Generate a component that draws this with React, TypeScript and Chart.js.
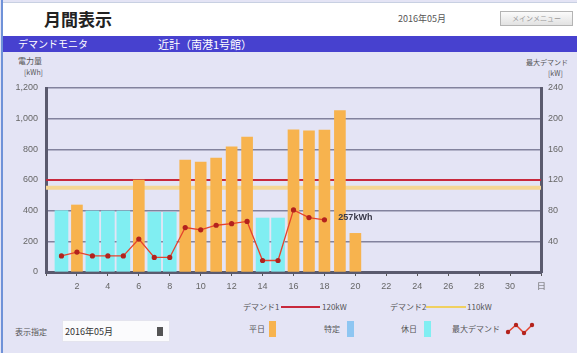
import React, { useEffect, useRef } from 'react';
import { Chart, registerables } from 'chart.js';

Chart.register(...registerables);

// ---- data ----
const DAYS = [1, 2, 3, 4, 5, 6, 7, 8, 9, 10, 11, 12, 13, 14, 15, 16, 17, 18, 19, 20, 21, 22, 23, 24, 25, 26, 27, 28, 29, 30, 31];
// 平日 (weekday) energy, kWh
const WEEKDAY_KWH: (number | null)[] = [null, 437, null, null, null, 600, null, null, 730, 717, 743, 817, 880, null, null, 928, 920, 926, 1052, 252, null, null, null, null, null, null, null, null, null, null, null];
// 休日 (holiday) energy, kWh
const HOLIDAY_KWH: (number | null)[] = [400, null, 398, 398, 398, null, 390, 390, null, null, null, null, null, 352, 352, null, null, null, null, null, null, null, null, null, null, null, null, null, null, null, null];
// 最大デマンド, kW
const MAX_DEMAND_KW: (number | null)[] = [21, 26, 21, 21, 21, 43, 19, 19, 58, 55, 61, 63, 66, 15, 15, 81, 71, 68, null, null, null, null, null, null, null, null, null, null, null, null, null];

const DEMAND1_KW = 120;
const DEMAND2_KW = 110;
const X_MIN = 0;
const X_MAX = 32;
const X_UNIT = '日';
const LEFT_MAX = 1200;
const LEFT_STEP = 200;
const RIGHT_MAX = 240;
const RIGHT_STEP = 40;
const VALUE_LABEL = { text: '257kWh', day: 18.9, kwh: 353 };

const CJK = '"Noto Sans CJK JP", "Liberation Sans", sans-serif';
const NUM = '"Liberation Sans", "DejaVu Sans", sans-serif';

const labelPlugin = {
  id: 'valueLabel',
  afterDatasetsDraw(c: any) {
    const { ctx, scales } = c;
    ctx.save();
    ctx.font = 'bold 9px ' + NUM;
    ctx.fillStyle = '#3a3a4a';
    ctx.textBaseline = 'middle';
    ctx.textAlign = 'left';
    ctx.fillText(VALUE_LABEL.text, scales.x.getPixelForValue(VALUE_LABEL.day), scales.y.getPixelForValue(VALUE_LABEL.kwh));
    ctx.restore();
  },
};

const toXY = (arr: (number | null)[]) =>
  DAYS.map((d, i) => (arr[i] == null ? null : { x: d, y: arr[i] as number })).filter((p) => p !== null) as { x: number; y: number }[];

const abs = (l: number, t: number, extra: any = {}) => ({ position: 'absolute' as const, left: l, top: t, whiteSpace: 'nowrap' as const, ...extra });

export default function App() {
  const ref = useRef<HTMLCanvasElement>(null);
  useEffect(() => {
    document.body.style.margin = '0';
    const chart = new Chart(ref.current as HTMLCanvasElement, {
      type: 'bar',
      data: {
        datasets: [
          {
            type: 'line', label: 'デマンド1', yAxisID: 'y1',
            data: [{ x: X_MIN, y: DEMAND1_KW }, { x: X_MAX, y: DEMAND1_KW }],
            borderColor: '#c8283c', borderWidth: 2, pointRadius: 0, order: 9,
          },
          {
            type: 'line', label: 'デマンド2', yAxisID: 'y1',
            data: [{ x: X_MIN, y: DEMAND2_KW }, { x: X_MAX, y: DEMAND2_KW }],
            borderColor: '#f5d694', borderWidth: 4, pointRadius: 0, order: 10,
          },
          {
            type: 'bar', label: '休日', yAxisID: 'y', data: toXY(HOLIDAY_KWH),
            backgroundColor: '#80eef2', barThickness: 13, grouped: false, order: 5,
          } as any,
          {
            type: 'bar', label: '平日', yAxisID: 'y', data: toXY(WEEKDAY_KWH),
            backgroundColor: '#f7b34e', barThickness: 11, grouped: false, order: 4,
          } as any,
          {
            type: 'line', label: '最大デマンド', yAxisID: 'y1', data: toXY(MAX_DEMAND_KW),
            borderColor: '#e5432e', borderWidth: 1.3, pointRadius: 2.6, pointBorderWidth: 0,
            pointBackgroundColor: '#b3221d', pointBorderColor: '#b3221d', order: 1,
          },
        ],
      },
      options: {
        animation: false,
        responsive: false,
        maintainAspectRatio: false,
        layout: { padding: { left: 0, right: 0, top: 36, bottom: 0 } },
        plugins: { legend: { display: false }, tooltip: { enabled: false } },
        scales: {
          x: {
            type: 'linear', min: X_MIN, max: X_MAX, offset: false,
            afterFit: (s: any) => { s.height = 28; },
            ticks: {
              stepSize: 2, autoSkip: false, maxRotation: 0, padding: 5,
              color: '#666', font: { size: 9, family: NUM },
              callback: (v: any) => (v === X_MIN ? '' : v === X_MAX ? X_UNIT : String(v)),
            },
            grid: { display: true, drawOnChartArea: false, drawTicks: true, tickLength: 4, color: '#555', offset: false },
            border: { display: true, color: '#5a5a6e', width: 3 },
          },
          y: {
            position: 'left', min: 0, max: LEFT_MAX,
            afterFit: (s: any) => { s.width = 46; },
            ticks: {
              stepSize: LEFT_STEP, padding: 8, color: '#666', font: { size: 9, family: NUM },
              callback: (v: any) => Number(v).toLocaleString('en-US'),
            },
            grid: { color: 'rgba(105,105,135,0.8)', lineWidth: 1.4, drawTicks: false },
            border: { display: true, color: '#5a5a6e', width: 3 },
          },
          y1: {
            position: 'right', min: 0, max: RIGHT_MAX,
            afterFit: (s: any) => { s.width = 36; },
            ticks: {
              stepSize: RIGHT_STEP, padding: 7, color: '#666', font: { size: 9, family: NUM },
              callback: (v: any) => (v === 0 ? '' : String(v)),
            },
            grid: { display: true, drawOnChartArea: false, drawTicks: false },
            border: { display: true, color: '#5a5a6e', width: 3 },
          },
        },
      } as any,
      plugins: [labelPlugin],
    });
    return () => chart.destroy();
  }, []);

  const small = { fontSize: 8, color: '#555', fontFamily: CJK, lineHeight: '10px' };
  return (
    <div style={{ position: 'relative', width: 577, height: 353, background: '#e4e4f5', overflow: 'hidden', fontFamily: CJK }}>
      <div style={abs(1, 0, { width: 2, height: 353, background: '#6f92d8' })} />
      <div style={abs(3, 2, { width: 574, height: 33, background: '#ffffff', borderTop: '1px solid #c8d0e2' })} />
      <div style={abs(44, 8, { fontSize: 17, fontWeight: 700, color: '#222', lineHeight: '22px' })}>月間表示</div>
      <div style={abs(398, 13, { fontSize: 9, color: '#555', lineHeight: '11px' })}>2016年05月</div>
      <div style={abs(500, 11, { width: 71, height: 13, border: '1px solid #b4b4b4', background: 'linear-gradient(#fbfbfb,#e2e2e2)', fontSize: 7, color: '#999', lineHeight: '13px', textAlign: 'center' })}>メインメニュー</div>
      <div style={abs(3, 36, { width: 574, height: 16, background: '#4741cf' })} />
      <div style={abs(18, 37, { fontSize: 10, color: '#fff', lineHeight: '14px' })}>デマンドモニタ</div>
      <div style={abs(158, 37, { fontSize: 11, color: '#fff', lineHeight: '14px' })}>近計（南港1号館）</div>

      <div style={abs(18, 56, { ...small })}>電力量</div>
      <div style={abs(24, 67, { ...small, fontSize: 7 })}>[kWh]</div>
      <div style={abs(526, 57, { ...small, fontSize: 7 })}>最大デマンド</div>
      <div style={abs(548, 68, { ...small, fontSize: 7 })}>[kW]</div>

      <canvas ref={ref} width={577} height={248} style={abs(0, 52, { width: 577, height: 248, display: 'block' })} />

      <div style={abs(243, 302, { ...small })}>デマンド1</div>
      <div style={abs(281, 306, { width: 39, height: 2, background: '#c8283c' })} />
      <div style={abs(322, 302, { ...small })}>120kW</div>
      <div style={abs(390, 302, { ...small })}>デマンド2</div>
      <div style={abs(426, 306, { width: 40, height: 2, background: '#f0d060' })} />
      <div style={abs(467, 302, { ...small })}>110kW</div>

      <div style={abs(15, 327, { ...small })}>表示指定</div>
      <div style={abs(62, 320, { width: 108, height: 22, background: '#fbfbfd', border: '1px solid #e4e4ee', boxSizing: 'border-box' })} />
      <div style={abs(65, 326, { fontSize: 9, color: '#333', lineHeight: '11px' })}>2016年05月</div>
      <div style={abs(157, 327, { width: 6, height: 9, background: '#555' })} />

      <div style={abs(249, 324, { ...small })}>平日</div>
      <div style={abs(269, 321, { width: 7, height: 16, background: '#f7b34e' })} />
      <div style={abs(324, 324, { ...small })}>特定</div>
      <div style={abs(347, 321, { width: 7, height: 16, background: '#8ec6f2' })} />
      <div style={abs(401, 324, { ...small })}>休日</div>
      <div style={abs(424, 321, { width: 7, height: 16, background: '#80eef2' })} />
      <div style={abs(452, 324, { ...small })}>最大デマンド</div>
      <svg style={abs(505, 320, {})} width={32} height={18}>
        <polyline points="3,12 11,5 19,13 27,5" fill="none" stroke="#e5432e" strokeWidth={1.5} />
        <circle cx={3} cy={12} r={2.2} fill="#b3221d" />
        <circle cx={11} cy={5} r={2.2} fill="#b3221d" />
        <circle cx={19} cy={13} r={2.2} fill="#b3221d" />
        <circle cx={27} cy={5} r={2.2} fill="#b3221d" />
      </svg>
    </div>
  );
}
